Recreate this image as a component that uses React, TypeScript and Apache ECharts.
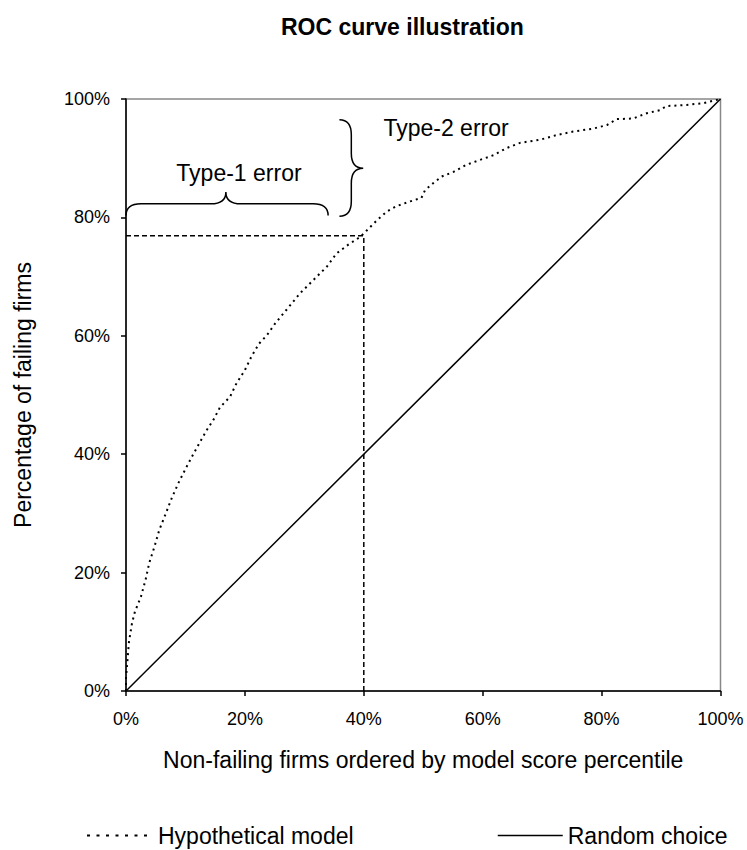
import React, { useEffect, useRef } from "react";
import * as echarts from "echarts";

// ---- data (percent) ----
const xTicks = [0, 20, 40, 60, 80, 100];
const modelX = [0, 0, 0.5, 1.0, 1.5, 2.5, 3.3, 3.9, 4.8, 5.6, 6.7, 7.7, 8.8, 9.9, 11.1, 12.3, 13.6, 14.7, 15.8, 17.5, 18.6, 20.0, 21.1, 22.4, 23.7, 25.1, 27.0, 29.3, 31.5, 33.8, 35.4, 37.4, 39.4, 40.5, 42.2, 43.9, 45.5, 47.8, 49.7, 50.3, 51.7, 53.1, 55.1, 57.3, 59.5, 61.8, 64.0, 66.3, 69.6, 72.4, 75.2, 78.6, 80.9, 82.5, 85.3, 87.6, 89.8, 90.9, 94.3, 97.1, 100];
const modelY = [0, 2.2, 8.3, 11.4, 13.4, 15.9, 18.8, 21.6, 24.4, 27.2, 30.0, 32.6, 35.1, 37.3, 39.6, 41.8, 44.1, 45.8, 47.9, 49.7, 52.0, 54.2, 56.5, 58.7, 60.1, 62.1, 64.4, 67.2, 69.4, 71.7, 73.9, 75.4, 76.7, 77.8, 79.5, 81.0, 81.9, 82.7, 83.3, 84.6, 85.8, 86.9, 87.7, 88.9, 89.7, 90.5, 91.7, 92.6, 93.1, 93.9, 94.5, 95.0, 95.6, 96.6, 96.7, 97.6, 98.1, 98.8, 99.0, 99.3, 100];
const randomX = [0, 100];
const randomY = [0, 100];
const cutoffX = 40;
const cutoffY = 76.9;
const seriesNames = ["Hypothetical model", "Random choice"];
const annotationTexts = ["Type-1 error", "Type-2 error"];

// ---- annotation geometry (data coordinates) ----
const brace1 = { x0: 0, x1: 34, xm: 16.8, yEnd: 80.3, yBody: 82.3, yTip: 84.3 };
const brace2 = { y0: 96.5, y1: 80.2, ym: 88.3, xEnd: 35.9, xBody: 37.9, xTip: 39.9 };
const label1 = { x: 19.0, y: 87.5 };
const label2 = { x: 43.3, y: 95.1 };

const FONT = '"Liberation Sans", Arial, Helvetica, sans-serif';

function renderAnnotations(_params: any, api: any) {
  const p = (x: number, y: number) => api.coord([x, y]);
  const r = 15;
  const a = p(brace1.x0, brace1.yEnd);
  const b = p(brace1.x1, brace1.yEnd);
  const m = p(brace1.xm, brace1.yTip);
  const body = p(0, brace1.yBody)[1];
  const d1 =
    `M${a[0]},${a[1]} Q${a[0]},${body} ${a[0] + r},${body} L${m[0] - r},${body} ` +
    `Q${m[0]},${body} ${m[0]},${m[1]} Q${m[0]},${body} ${m[0] + r},${body} ` +
    `L${b[0] - r},${body} Q${b[0]},${body} ${b[0]},${b[1]}`;

  const t = p(brace2.xEnd, brace2.y0);
  const bt = p(brace2.xEnd, brace2.y1);
  const tip = p(brace2.xTip, brace2.ym);
  const xb = p(brace2.xBody, 0)[0];
  const d2 =
    `M${t[0]},${t[1]} Q${xb},${t[1]} ${xb},${t[1] + r} L${xb},${tip[1] - r} ` +
    `Q${xb},${tip[1]} ${tip[0]},${tip[1]} Q${xb},${tip[1]} ${xb},${tip[1] + r} ` +
    `L${xb},${bt[1] - r} Q${xb},${bt[1]} ${bt[0]},${bt[1]}`;

  const l1 = p(label1.x, label1.y);
  const l2 = p(label2.x, label2.y);
  const stroke = { stroke: "#000", fill: "none", lineWidth: 1.5 };
  return {
    type: "group",
    children: [
      { type: "path", shape: { pathData: d1 }, style: stroke },
      { type: "path", shape: { pathData: d2 }, style: stroke },
      {
        type: "text",
        x: l1[0],
        y: l1[1],
        style: { text: annotationTexts[0], fill: "#000", fontSize: 23, fontFamily: FONT, align: "center", verticalAlign: "middle" },
      },
      {
        type: "text",
        x: l2[0],
        y: l2[1],
        style: { text: annotationTexts[1], fill: "#000", fontSize: 23, fontFamily: FONT, align: "left", verticalAlign: "middle" },
      },
    ],
  };
}

export default function App() {
  const ref = useRef<HTMLDivElement>(null);
  useEffect(() => {
    document.body.style.margin = "0";
    if (!ref.current) return;
    const chart = echarts.init(ref.current, undefined, { renderer: "svg" });
    const modelData = modelX.map((x, i) => [x, modelY[i]]);
    const randomData = randomX.map((x, i) => [x, randomY[i]]);
    const guideData = [
      [0, cutoffY],
      [cutoffX, cutoffY],
      [cutoffX, 0],
    ];
    const legendCommon = {
      top: 819,
      itemHeight: 14,
      textStyle: { fontSize: 23, color: "#000", fontFamily: FONT },
      itemStyle: { color: "transparent", borderColor: "transparent", borderWidth: 0, opacity: 0 },
    };
    chart.setOption({
      animation: false,
      backgroundColor: "#fff",
      textStyle: { fontFamily: FONT, color: "#000" },
      title: {
        text: "ROC curve illustration",
        left: 276,
        top: 10,
        textStyle: { fontSize: 23, fontWeight: "bold", color: "#000", fontFamily: FONT },
      },
      grid: {
        left: 126,
        top: 99,
        right: 26.5,
        bottom: 159,
        show: true,
        borderColor: "#888",
        borderWidth: 1.5,
        backgroundColor: "transparent",
      },
      legend: [
        {
          ...legendCommon,
          data: [seriesNames[0]],
          left: 81,
          itemWidth: 66,
          lineStyle: { type: [3, 6.5], width: 2, color: "#000" },
        },
        {
          ...legendCommon,
          data: [seriesNames[1]],
          left: 492,
          itemWidth: 65,
          lineStyle: { width: 1.5, color: "#000" },
        },
      ],
      xAxis: {
        type: "value",
        min: 0,
        max: 100,
        interval: 20,
        name: "Non-failing firms ordered by model score percentile",
        nameLocation: "middle",
        nameGap: 57,
        nameTextStyle: { fontSize: 23, color: "#000", fontFamily: FONT },
        axisLine: { show: true, lineStyle: { color: "#000", width: 1.5 } },
        axisTick: { show: true, length: 5, lineStyle: { color: "#000", width: 1.5 }, customValues: xTicks },
        axisLabel: {
          fontSize: 18,
          color: "#000",
          margin: 19,
          fontFamily: FONT,
          formatter: (v: number) => `${v}%`,
        },
        splitLine: { show: false },
      },
      yAxis: {
        type: "value",
        min: 0,
        max: 100,
        interval: 20,
        name: "Percentage of failing firms",
        nameLocation: "middle",
        nameGap: 92,
        nameTextStyle: { fontSize: 23, color: "#000", fontFamily: FONT },
        axisLine: { show: true, lineStyle: { color: "#000", width: 1.5 } },
        axisTick: { show: true, length: 5, lineStyle: { color: "#000", width: 1.5 } },
        axisLabel: {
          fontSize: 18,
          color: "#000",
          margin: 16,
          fontFamily: FONT,
          formatter: (v: number) => `${v}%`,
        },
        splitLine: { show: false },
      },
      series: [
        {
          name: "cutoff",
          type: "line",
          data: guideData,
          symbol: "none",
          silent: true,
          lineStyle: { color: "#000", width: 1.5, type: [5, 3] },
          z: 2,
        },
        {
          name: seriesNames[1],
          type: "line",
          data: randomData,
          symbol: "none",
          showSymbol: false,
          lineStyle: { color: "#000", width: 1.5, type: "solid" },
          itemStyle: { color: "#000" },
          z: 3,
        },
        {
          name: seriesNames[0],
          type: "line",
          data: modelData,
          symbol: "none",
          showSymbol: false,
          lineStyle: { color: "#000", width: 2, type: [2, 4] },
          itemStyle: { color: "#000" },
          z: 4,
        },
        {
          name: "annotations",
          type: "custom",
          data: [[0, 0]],
          encode: { x: 0, y: 1 },
          renderItem: renderAnnotations,
          silent: true,
          z: 5,
        },
      ],
    });
    return () => chart.dispose();
  }, []);
  return <div ref={ref} style={{ width: 747, height: 850 }} />;
}
